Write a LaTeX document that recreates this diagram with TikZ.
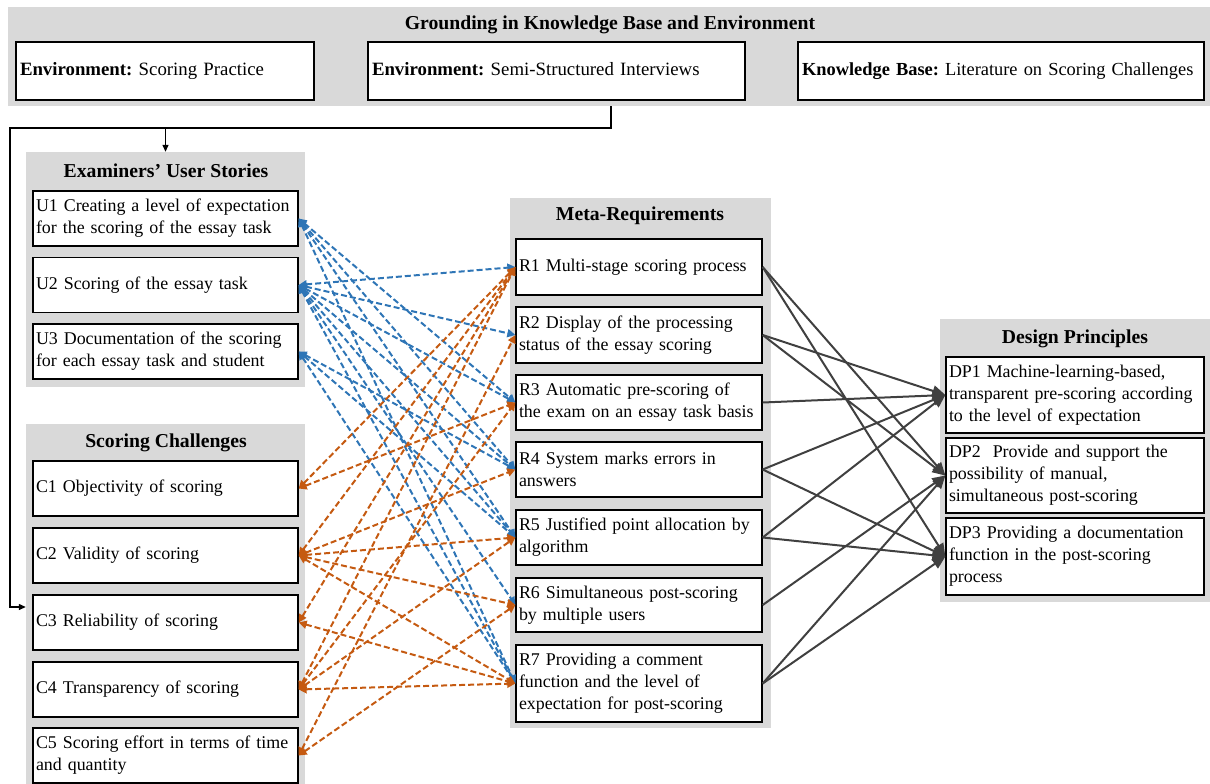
\documentclass[tikz,border=0pt]{standalone}
\usepackage{fontspec}
\setmainfont{Liberation Serif}
\usetikzlibrary{arrows.meta}
\definecolor{pgray}{HTML}{D9D9D9}
\definecolor{lblue}{HTML}{2E75B6}
\definecolor{lorange}{HTML}{C55A11}
\definecolor{ldark}{HTML}{404040}
\frenchspacing
\hyphenpenalty=10000
\exhyphenpenalty=10000
\begin{document}
\begin{tikzpicture}[x=1pt,y=-1pt,
 every node/.style={font=\fontsize{17.9}{22}\selectfont},
 panel/.style={fill=pgray, inner sep=0pt},
 ttl/.style={font=\fontsize{19.7}{22}\selectfont\bfseries, inner sep=0pt},
 box/.style={draw=black, line width=1.3pt, fill=white, inner xsep=3pt, inner ysep=0pt, align=left},
 ebox/.style={box, inner xsep=4pt, font=\fontsize{18.8}{22}\selectfont},
 ubox/.style={box, text width=259pt, minimum height=55pt},
 rbox/.style={box, text width=240pt},
 dbox/.style={box, text width=252pt},
 bl/.style={draw=lblue, line width=2pt, dash pattern=on 6pt off 3pt,
   {Triangle[length=8pt,width=8pt]}-{Triangle[length=8pt,width=8pt]}},
 ol/.style={draw=lorange, line width=2pt, dash pattern=on 6pt off 3pt,
   {Triangle[length=8pt,width=8pt]}-{Triangle[length=8pt,width=8pt]}},
 dl/.style={draw=ldark, line width=2pt, -{Triangle[length=13pt,width=11pt]}},
 fb/.style={draw=black, line width=1.3pt},
 fba/.style={fb, -{Triangle[length=7pt,width=6pt]}}
]
\useasboundingbox (0,0) rectangle (1210,784);

% ---- top panel
\node[panel, minimum width=1202pt, minimum height=99pt] (ground) at (609,56.5) {};
\node[ttl] (groundt) at (610,25) {Grounding in Knowledge Base and Environment};
\node[ebox, text width=290pt, minimum height=58pt] (e1) at (165,71) {\strut\textbf{Environment:} Scoring Practice};
\node[ebox, text width=369pt, minimum height=58pt] (e2) at (556.5,71) {\strut\textbf{Environment:} Semi-Structured Interviews};
\node[ebox, text width=398pt, minimum height=58pt, font=\fontsize{18.4}{22}\selectfont] (e3) at (1001,71) {\strut\textbf{Knowledge Base:} Literature on Scoring Challenges};

% ---- user stories
\node[panel, minimum width=279pt, minimum height=235pt] (uspanel) at (165.5,269.5) {};
\node[ttl] (ust) at (166,171) {Examiners’ User Stories};
\node[ubox] (u1) at (165.5,218.5) {U1 Creating a level of expectation\\for the scoring of the essay task};
\node[ubox] (u2) at (165.5,285) {U2 Scoring of the essay task};
\node[ubox] (u3) at (165.5,351.5) {U3 Documentation of the scoring\\for each essay task and student};

% ---- scoring challenges
\node[panel, minimum width=279pt, minimum height=360pt] (chpanel) at (165.5,604) {};
\node[ttl] (cht) at (166,443) {Scoring Challenges};
\node[ubox] (c1) at (165.5,488.5) {C1 Objectivity of scoring};
\node[ubox] (c2) at (165.5,555.5) {C2 Validity of scoring};
\node[ubox] (c3) at (165.5,622.5) {C3 Reliability of scoring};
\node[ubox] (c4) at (165.5,689.5) {C4 Transparency of scoring};
\node[ubox] (c5) at (165.5,755.5) {C5 Scoring effort in terms of time\\and quantity};

% ---- meta-requirements
\node[panel, minimum width=261pt, minimum height=530pt] (mrpanel) at (640.5,463) {};
\node[ttl] (mrt) at (640,216) {Meta-Requirements};
\node[rbox, minimum height=56pt] (r1) at (639,267) {R1 Multi-stage scoring process};
\node[rbox, minimum height=56pt] (r2) at (639,335) {R2 Display of the processing\\status of the essay scoring};
\node[rbox, minimum height=55pt] (r3) at (639,402.5) {R3 Automatic pre-scoring of\\the exam on an essay task basis};
\node[rbox, minimum height=55pt] (r4) at (639,469.5) {R4 System marks errors in\\answers};
\node[rbox, minimum height=55pt] (r5) at (639,537.5) {R5 Justified point allocation by\\algorithm};
\node[rbox, minimum height=54pt] (r6) at (639,605) {R6 Simultaneous post-scoring\\by multiple users};
\node[rbox, minimum height=77pt] (r7) at (639,683.5) {R7 Providing a comment\\function and the level of\\expectation for post-scoring};

% ---- design principles
\node[panel, minimum width=270pt, minimum height=283pt] (dppanel) at (1075,460.5) {};
\node[ttl] (dpt) at (1075,339) {Design Principles};
\node[dbox, minimum height=76pt] (dp1) at (1075,395) {DP1 Machine-learning-based,\\transparent pre-scoring according\\to the level of expectation};
\node[dbox, minimum height=75pt] (dp2) at (1075,475.5) {DP2\ \ Provide and support the\\possibility of manual,\\simultaneous post-scoring};
\node[dbox, minimum height=77pt] (dp3) at (1075,556.5) {DP3 Providing a documentation\\function in the post-scoring\\process};

% ---- feedback connector
\coordinate (k1) at (611,128);
\coordinate (k2) at (10,128);
\coordinate (k3) at (10,607);
\draw[fba] (ground.south -| k1) -- (k1) -- (k2) -- (k3) -- (k3 -| chpanel.west);
\draw[fba] (k2 -| uspanel.north) -- (uspanel.north);

% ---- blue: user stories <-> meta-requirements
\foreach \t in {r3,r4,r5,r7} \draw[bl] (u1.east) -- (\t.west);
\foreach \t in {r1,r2,r3,r4,r5,r6,r7} \draw[bl] (u2.east) -- (\t.west);
\foreach \t in {r4,r5,r7} \draw[bl] (u3.east) -- (\t.west);

% ---- orange: challenges <-> meta-requirements
\foreach \t in {r1,r3} \draw[ol] (c1.east) -- (\t.west);
\foreach \t in {r1,r4,r5,r6,r7} \draw[ol] (c2.east) -- (\t.west);
\foreach \t in {r1,r7} \draw[ol] (c3.east) -- (\t.west);
\foreach \t in {r1,r3,r5,r7} \draw[ol] (c4.east) -- (\t.west);
\foreach \t in {r2,r6} \draw[ol] (c5.east) -- (\t.west);

% ---- dark: meta-requirements -> design principles
\draw[dl] (r1.east) -- (dp2.west);
\draw[dl] (r1.east) -- (dp3.west);
\draw[dl] (r2.east) -- (dp1.west);
\draw[dl] (r2.east) -- (dp2.west);
\draw[dl] (r3.east) -- (dp1.west);
\draw[dl] (r4.east) -- (dp1.west);
\draw[dl] (r4.east) -- (dp3.west);
\draw[dl] (r5.east) -- (dp1.west);
\draw[dl] (r5.east) -- (dp3.west);
\draw[dl] (r6.east) -- (dp2.west);
\draw[dl] (r7.east) -- (dp2.west);
\draw[dl] (r7.east) -- (dp3.west);
\end{tikzpicture}
\end{document}
